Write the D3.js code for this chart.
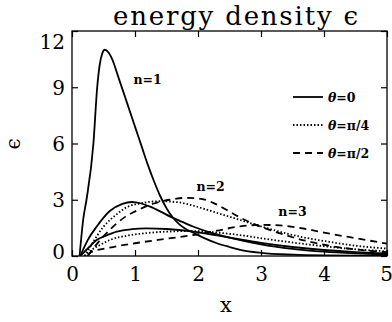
<!DOCTYPE html>
<html>
<head>
<meta charset="utf-8">
<script src="https://cdn.jsdelivr.net/npm/d3@7"></script>
<style>
  body { margin: 0; background: #fff; }
  text { fill: #000; }
</style>
</head>
<body>
<svg></svg>
<script>
const w = 392
const h = 322
const pl = 72, pr = 387, pt = 31, pb = 256

const xTicks = [0, 1, 2, 3, 4, 5]
const yTicks = [0, 3, 6, 9, 12]

// n=1, theta=0
const n1Solid = [[0.12,0],[0.18,2],[0.23,3],[0.34,6],[0.4,9],[0.44,10.2],[0.48,10.8],[0.52,11.0],[0.58,10.85],[0.65,10.4],[0.72,9.7],[0.8,8.9],[0.9,7.9],[1.0,6.9],[1.1,5.9],[1.2,4.9],[1.3,4.0],[1.4,3.2],[1.5,2.55],[1.6,2.05],[1.7,1.7],[1.8,1.45],[1.95,1.2],[2.1,0.95],[2.3,0.68],[2.5,0.48],[2.67,0.33],[3.0,0.17],[3.5,0.07],[4.0,0.03],[5,0.005]]
// n=2
const n2Solid = [[0.13,0],[0.25,0.85],[0.39,1.56],[0.6,2.4],[0.8,2.78],[0.95,2.88],[1.1,2.8],[1.24,2.63],[1.4,2.38],[1.56,2.1],[1.75,1.82],[1.93,1.56],[2.2,1.25],[2.67,0.85],[3.0,0.62],[3.5,0.38],[4.0,0.23],[4.5,0.14],[5,0.08]]
const n2Dotted = [[0.2,0],[0.3,0.55],[0.5,1.56],[0.7,2.2],[0.87,2.6],[1.1,2.82],[1.4,2.92],[1.7,2.86],[1.93,2.68],[2.3,2.3],[2.67,1.92],[3.03,1.55],[3.5,1.12],[4.15,0.72],[4.5,0.55],[5,0.4]]
const n2Dashed = [[0.25,0],[0.35,0.45],[0.6,1.4],[0.85,2.1],[1.08,2.5],[1.3,2.8],[1.55,3.0],[1.8,3.1],[2.05,3.05],[2.25,2.82],[2.45,2.47],[2.67,2.05],[2.93,1.65],[3.2,1.32],[3.5,1.0],[4.0,0.6],[4.5,0.35],[5,0.2]]
// n=3
const n3Solid = [[0.13,0],[0.25,0.4],[0.39,0.85],[0.55,1.1],[0.71,1.3],[0.95,1.43],[1.18,1.47],[1.5,1.44],[1.93,1.3],[2.3,1.1],[2.67,0.88],[3.0,0.7],[3.5,0.48],[4.0,0.32],[4.5,0.21],[5,0.14]]
const n3Dotted = [[0.2,0],[0.3,0.3],[0.45,0.6],[0.6,0.85],[0.9,1.1],[1.18,1.22],[1.5,1.3],[1.9,1.33],[2.3,1.25],[2.7,1.1],[3.1,0.9],[3.5,0.72],[4.0,0.52],[4.5,0.36],[5,0.25]]
const n3Dashed = [[0.25,0],[0.3,0.2],[0.6,0.45],[1.0,0.68],[1.5,0.92],[1.93,1.12],[2.3,1.35],[2.67,1.58],[3.0,1.66],[3.3,1.63],[3.7,1.45],[4.0,1.25],[4.5,0.95],[5,0.66]]

const dash = { solid: null, dotted: '1.5 2', dashed: '7 5' }

const series = [
  [n1Solid, 'solid'], [n2Solid, 'solid'], [n3Solid, 'solid'],
  [n2Dotted, 'dotted'], [n3Dotted, 'dotted'],
  [n2Dashed, 'dashed'], [n3Dashed, 'dashed']
]

const legend = [['solid', '0'], ['dotted', 'π/4'], ['dashed', 'π/2']]
const nLabels = [['n=1', 1.2, 9.2], ['n=2', 2.2, 3.45], ['n=3', 3.5, 2.15]]

const svg = d3.select('svg').attr('width', w).attr('height', h)

const x = d3.scaleLinear().domain([0, 5]).range([pl, pr])
const y = d3.scaleLinear().domain([0, 12]).range([pb, pt])

svg.append('clipPath').attr('id', 'clip')
  .append('rect')
  .attr('x', pl).attr('y', pt)
  .attr('width', pr - pl).attr('height', pb - pt)

const line = d3.line()
  .x(d => x(d[0]))
  .y(d => y(d[1]))
  .curve(d3.curveMonotoneX)

svg.append('g').attr('clip-path', 'url(#clip)')
  .selectAll('path')
  .data(series)
  .enter()
  .append('path')
  .attr('d', d => line(d[0]))
  .attr('fill', 'none')
  .attr('stroke', '#000')
  .attr('stroke-width', 1.8)
  .attr('stroke-dasharray', d => dash[d[1]])

// axes, ticks pointing inward
const serif = '"DejaVu Serif", "Liberation Serif", serif'

const xAxis = svg.append('g')
  .attr('transform', `translate(0, ${pb})`)
  .call(d3.axisBottom(x).tickValues(xTicks).tickFormat(d3.format('d')).tickSizeInner(-6).tickSizeOuter(0))
xAxis.selectAll('text')
  .attr('font-family', serif).attr('font-size', 20)
  .attr('dy', '0.71em').attr('y', 11)
  .attr('dx', d => d === 5 ? -1 : 0)

svg.append('g')
  .attr('transform', `translate(0, ${pt})`)
  .call(d3.axisTop(x).tickValues(xTicks).tickSizeInner(-6).tickSizeOuter(0).tickFormat(''))

const yAxis = svg.append('g')
  .attr('transform', `translate(${pl}, 0)`)
  .call(d3.axisLeft(y).tickValues(yTicks).tickFormat(d3.format('d')).tickSizeInner(-6).tickSizeOuter(0))
yAxis.selectAll('text')
  .attr('font-family', serif).attr('font-size', 20)
  .attr('x', -7)
  .attr('dy', d => d === 12 ? '0.85em' : d === 0 ? '0.12em' : '0.35em')

svg.append('g')
  .attr('transform', `translate(${pr}, 0)`)
  .call(d3.axisRight(y).tickValues(yTicks).tickSizeInner(-6).tickSizeOuter(0).tickFormat(''))

svg.selectAll('.domain').remove()
svg.selectAll('.tick line').attr('stroke', '#000').attr('stroke-width', 1.2)

svg.append('rect')
  .attr('x', pl).attr('y', pt)
  .attr('width', pr - pl).attr('height', pb - pt)
  .attr('fill', 'none').attr('stroke', '#000').attr('stroke-width', 1.3)

// titles
svg.append('text')
  .attr('x', 113).attr('y', 25)
  .attr('font-family', serif).attr('font-size', 26)
  .attr('textLength', 245).attr('lengthAdjust', 'spacing')
  .text('energy density ϵ')

svg.append('text')
  .attr('x', 226).attr('y', 312)
  .attr('text-anchor', 'middle')
  .attr('font-family', serif).attr('font-size', 21)
  .text('x')

svg.append('text')
  .attr('transform', 'translate(20, 144) rotate(-90)')
  .attr('text-anchor', 'middle')
  .attr('font-family', serif).attr('font-size', 20)
  .text('ϵ')

// curve labels
svg.selectAll('.nlab')
  .data(nLabels)
  .enter()
  .append('text')
  .attr('class', 'nlab')
  .attr('x', d => x(d[1])).attr('y', d => y(d[2]))
  .attr('text-anchor', 'middle')
  .attr('font-family', serif).attr('font-weight', 'bold').attr('font-size', 12.5)
  .text(d => d[0])

// legend
const lg = svg.append('g').attr('transform', 'translate(293, 97)')
legend.forEach((d, i) => {
  const row = lg.append('g').attr('transform', `translate(0, ${i * 28})`)
  row.append('line')
    .attr('x1', 0).attr('x2', 30)
    .attr('stroke', '#000').attr('stroke-width', 1.8)
    .attr('stroke-dasharray', dash[d[0]])
  const t = row.append('text')
    .attr('x', 35).attr('y', 4.5)
    .attr('font-family', serif).attr('font-weight', 'bold').attr('font-size', 12.5)
  t.append('tspan').attr('font-style', 'italic').text('θ')
  t.append('tspan').text('=' + d[1])
})
</script>
</body>
</html>
